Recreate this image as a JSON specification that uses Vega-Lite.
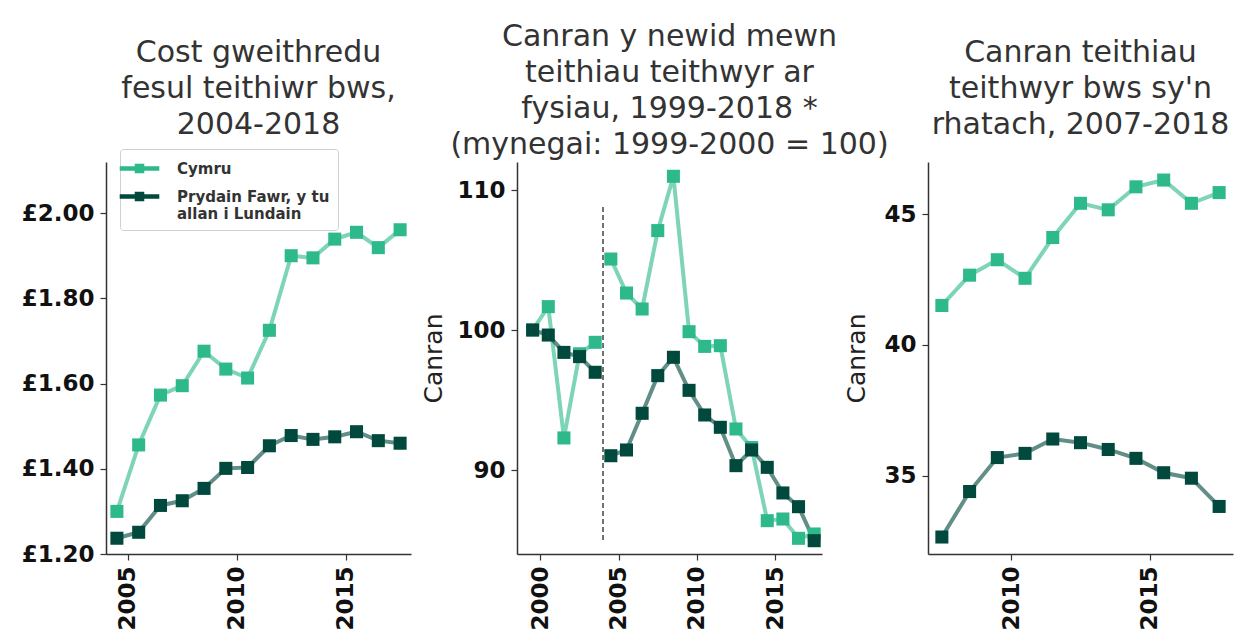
{
  "$schema": "https://vega.github.io/schema/vega-lite/v6.json",
  "background": "white",
  "padding": {"left": 21, "top": 22, "right": 5, "bottom": 0},
  "datasets": {
    "cost": [
      {"year": 2004.5, "value": 1.300, "series": "Cymru"},
      {"year": 2005.5, "value": 1.456, "series": "Cymru"},
      {"year": 2006.5, "value": 1.573, "series": "Cymru"},
      {"year": 2007.5, "value": 1.595, "series": "Cymru"},
      {"year": 2008.5, "value": 1.676, "series": "Cymru"},
      {"year": 2009.5, "value": 1.634, "series": "Cymru"},
      {"year": 2010.5, "value": 1.613, "series": "Cymru"},
      {"year": 2011.5, "value": 1.725, "series": "Cymru"},
      {"year": 2012.5, "value": 1.900, "series": "Cymru"},
      {"year": 2013.5, "value": 1.895, "series": "Cymru"},
      {"year": 2014.5, "value": 1.939, "series": "Cymru"},
      {"year": 2015.5, "value": 1.955, "series": "Cymru"},
      {"year": 2016.5, "value": 1.919, "series": "Cymru"},
      {"year": 2017.5, "value": 1.961, "series": "Cymru"},
      {"year": 2004.5, "value": 1.237, "series": "Prydain Fawr, y tu allan i Lundain"},
      {"year": 2005.5, "value": 1.251, "series": "Prydain Fawr, y tu allan i Lundain"},
      {"year": 2006.5, "value": 1.314, "series": "Prydain Fawr, y tu allan i Lundain"},
      {"year": 2007.5, "value": 1.325, "series": "Prydain Fawr, y tu allan i Lundain"},
      {"year": 2008.5, "value": 1.354, "series": "Prydain Fawr, y tu allan i Lundain"},
      {"year": 2009.5, "value": 1.401, "series": "Prydain Fawr, y tu allan i Lundain"},
      {"year": 2010.5, "value": 1.403, "series": "Prydain Fawr, y tu allan i Lundain"},
      {"year": 2011.5, "value": 1.454, "series": "Prydain Fawr, y tu allan i Lundain"},
      {"year": 2012.5, "value": 1.478, "series": "Prydain Fawr, y tu allan i Lundain"},
      {"year": 2013.5, "value": 1.469, "series": "Prydain Fawr, y tu allan i Lundain"},
      {"year": 2014.5, "value": 1.475, "series": "Prydain Fawr, y tu allan i Lundain"},
      {"year": 2015.5, "value": 1.487, "series": "Prydain Fawr, y tu allan i Lundain"},
      {"year": 2016.5, "value": 1.466, "series": "Prydain Fawr, y tu allan i Lundain"},
      {"year": 2017.5, "value": 1.460, "series": "Prydain Fawr, y tu allan i Lundain"}
    ],
    "index": [
      {"year": 1999.5, "value": 100.0, "series": "Cymru", "seg": "a"},
      {"year": 2000.5, "value": 101.67, "series": "Cymru", "seg": "a"},
      {"year": 2001.5, "value": 92.29, "series": "Cymru", "seg": "a"},
      {"year": 2002.5, "value": 98.3, "series": "Cymru", "seg": "a"},
      {"year": 2003.5, "value": 99.12, "series": "Cymru", "seg": "a"},
      {"year": 2004.5, "value": 105.07, "series": "Cymru", "seg": "b"},
      {"year": 2005.5, "value": 102.64, "series": "Cymru", "seg": "b"},
      {"year": 2006.5, "value": 101.5, "series": "Cymru", "seg": "b"},
      {"year": 2007.5, "value": 107.1, "series": "Cymru", "seg": "b"},
      {"year": 2008.5, "value": 110.98, "series": "Cymru", "seg": "b"},
      {"year": 2009.5, "value": 99.88, "series": "Cymru", "seg": "b"},
      {"year": 2010.5, "value": 98.83, "series": "Cymru", "seg": "b"},
      {"year": 2011.5, "value": 98.88, "series": "Cymru", "seg": "b"},
      {"year": 2012.5, "value": 92.93, "series": "Cymru", "seg": "b"},
      {"year": 2013.5, "value": 91.6, "series": "Cymru", "seg": "b"},
      {"year": 2014.5, "value": 86.38, "series": "Cymru", "seg": "b"},
      {"year": 2015.5, "value": 86.5, "series": "Cymru", "seg": "b"},
      {"year": 2016.5, "value": 85.12, "series": "Cymru", "seg": "b"},
      {"year": 2017.5, "value": 85.43, "series": "Cymru", "seg": "b"},
      {"year": 1999.5, "value": 100.0, "series": "Prydain Fawr, y tu allan i Lundain", "seg": "a"},
      {"year": 2000.5, "value": 99.64, "series": "Prydain Fawr, y tu allan i Lundain", "seg": "a"},
      {"year": 2001.5, "value": 98.4, "series": "Prydain Fawr, y tu allan i Lundain", "seg": "a"},
      {"year": 2002.5, "value": 98.1, "series": "Prydain Fawr, y tu allan i Lundain", "seg": "a"},
      {"year": 2003.5, "value": 96.98, "series": "Prydain Fawr, y tu allan i Lundain", "seg": "a"},
      {"year": 2004.5, "value": 91.02, "series": "Prydain Fawr, y tu allan i Lundain", "seg": "b"},
      {"year": 2005.5, "value": 91.43, "series": "Prydain Fawr, y tu allan i Lundain", "seg": "b"},
      {"year": 2006.5, "value": 94.05, "series": "Prydain Fawr, y tu allan i Lundain", "seg": "b"},
      {"year": 2007.5, "value": 96.74, "series": "Prydain Fawr, y tu allan i Lundain", "seg": "b"},
      {"year": 2008.5, "value": 98.05, "series": "Prydain Fawr, y tu allan i Lundain", "seg": "b"},
      {"year": 2009.5, "value": 95.69, "series": "Prydain Fawr, y tu allan i Lundain", "seg": "b"},
      {"year": 2010.5, "value": 93.93, "series": "Prydain Fawr, y tu allan i Lundain", "seg": "b"},
      {"year": 2011.5, "value": 93.05, "series": "Prydain Fawr, y tu allan i Lundain", "seg": "b"},
      {"year": 2012.5, "value": 90.31, "series": "Prydain Fawr, y tu allan i Lundain", "seg": "b"},
      {"year": 2013.5, "value": 91.43, "series": "Prydain Fawr, y tu allan i Lundain", "seg": "b"},
      {"year": 2014.5, "value": 90.19, "series": "Prydain Fawr, y tu allan i Lundain", "seg": "b"},
      {"year": 2015.5, "value": 88.36, "series": "Prydain Fawr, y tu allan i Lundain", "seg": "b"},
      {"year": 2016.5, "value": 87.38, "series": "Prydain Fawr, y tu allan i Lundain", "seg": "b"},
      {"year": 2017.5, "value": 84.95, "series": "Prydain Fawr, y tu allan i Lundain", "seg": "b"}
    ],
    "divider": [
      {"year": 2004, "low": 85, "high": 109}
    ],
    "cheaper": [
      {"year": 2007.5, "value": 41.51, "series": "Cymru"},
      {"year": 2008.5, "value": 42.67, "series": "Cymru"},
      {"year": 2009.5, "value": 43.26, "series": "Cymru"},
      {"year": 2010.5, "value": 42.55, "series": "Cymru"},
      {"year": 2011.5, "value": 44.11, "series": "Cymru"},
      {"year": 2012.5, "value": 45.42, "series": "Cymru"},
      {"year": 2013.5, "value": 45.17, "series": "Cymru"},
      {"year": 2014.5, "value": 46.05, "series": "Cymru"},
      {"year": 2015.5, "value": 46.31, "series": "Cymru"},
      {"year": 2016.5, "value": 45.42, "series": "Cymru"},
      {"year": 2017.5, "value": 45.83, "series": "Cymru"},
      {"year": 2007.5, "value": 32.65, "series": "Prydain Fawr, y tu allan i Lundain"},
      {"year": 2008.5, "value": 34.39, "series": "Prydain Fawr, y tu allan i Lundain"},
      {"year": 2009.5, "value": 35.69, "series": "Prydain Fawr, y tu allan i Lundain"},
      {"year": 2010.5, "value": 35.85, "series": "Prydain Fawr, y tu allan i Lundain"},
      {"year": 2011.5, "value": 36.40, "series": "Prydain Fawr, y tu allan i Lundain"},
      {"year": 2012.5, "value": 36.26, "series": "Prydain Fawr, y tu allan i Lundain"},
      {"year": 2013.5, "value": 36.00, "series": "Prydain Fawr, y tu allan i Lundain"},
      {"year": 2014.5, "value": 35.66, "series": "Prydain Fawr, y tu allan i Lundain"},
      {"year": 2015.5, "value": 35.11, "series": "Prydain Fawr, y tu allan i Lundain"},
      {"year": 2016.5, "value": 34.90, "series": "Prydain Fawr, y tu allan i Lundain"},
      {"year": 2017.5, "value": 33.82, "series": "Prydain Fawr, y tu allan i Lundain"}
    ]
  },
  "bounds": "flush",
  "spacing": 106,
  "resolve": {"scale": {"color": "independent"}, "legend": {"color": "independent"}},
  "hconcat": [
    {
      "width": 305,
      "height": 392,
      "title": {"text": ["Cost gweithredu", "fesul teithiwr bws,", "2004-2018"], "offset": 9},
      "data": {"name": "cost"},
      "encoding": {
        "x": {"field": "year", "type": "quantitative", "scale": {"domain": [2004, 2018], "nice": false, "zero": false},
              "axis": {"title": null, "values": [2005, 2010, 2015], "format": "d"}},
        "y": {"field": "value", "type": "quantitative", "scale": {"domain": [1.2, 2.12], "nice": false, "zero": false},
              "axis": {"title": null, "values": [1.2, 1.4, 1.6, 1.8, 2.0], "labelExpr": "'£' + format(datum.value, '.2f')"}}
      },
      "layer": [
        {
          "mark": {"type": "line", "strokeWidth": 4, "strokeOpacity": 0.62},
          "encoding": {
            "color": {"field": "series", "type": "nominal",
              "scale": {"domain": ["Cymru", "Prydain Fawr, y tu allan i Lundain"], "range": ["#2db98b", "#00493c"]},
              "legend": {"title": null, "orient": "none", "legendX": 14, "legendY": -13,
                "symbolType": "M-2.2,0H-0.28M0.28,0H2.2M-0.28,-0.28H0.28V0.28H-0.28Z",
                "symbolSize": 324, "symbolStrokeWidth": 4.5, "symbolOpacity": 0.9,
                "labelExpr": "datum.label == 'Prydain Fawr, y tu allan i Lundain' ? ['Prydain Fawr, y tu', 'allan i Lundain'] : datum.label",
                "labelFont": "DejaVu Sans", "labelFontSize": 15, "labelFontWeight": "bold", "labelColor": "#333",
                "labelLimit": 300, "rowPadding": 3, "labelOffset": 26,
                "strokeColor": "#d0d0d0", "fillColor": "white", "cornerRadius": 3, "padding": 8}
            }
          }
        },
        {
          "mark": {"type": "point", "shape": "square", "filled": true, "size": 170, "opacity": 1},
          "encoding": {
            "color": {"field": "series", "type": "nominal",
              "scale": {"domain": ["Cymru", "Prydain Fawr, y tu allan i Lundain"], "range": ["#2db98b", "#00493c"]}}
          }
        }
      ]
    },
    {
      "width": 305,
      "height": 392,
      "title": {"text": ["Canran y newid mewn", "teithiau teithwyr ar", "fysiau, 1999-2018 *", "(mynegai: 1999-2000 = 100)"], "offset": 2},
      "layer": [
        {
          "data": {"name": "divider"},
          "mark": {"type": "rule", "color": "#444", "strokeWidth": 1.5, "strokeDash": [5, 3]},
          "encoding": {
            "x": {"field": "year", "type": "quantitative"},
            "y": {"field": "low", "type": "quantitative"},
            "y2": {"field": "high"}
          }
        },
        {
          "data": {"name": "index"},
          "mark": {"type": "line", "strokeWidth": 4, "strokeOpacity": 0.62},
          "encoding": {
            "x": {"field": "year", "type": "quantitative"},
            "y": {"field": "value", "type": "quantitative"},
            "detail": {"field": "seg"},
            "color": {"field": "series", "type": "nominal",
              "scale": {"domain": ["Cymru", "Prydain Fawr, y tu allan i Lundain"], "range": ["#2db98b", "#00493c"]}, "legend": null}
          }
        },
        {
          "data": {"name": "index"},
          "mark": {"type": "point", "shape": "square", "filled": true, "size": 170, "opacity": 1},
          "encoding": {
            "x": {"field": "year", "type": "quantitative"},
            "y": {"field": "value", "type": "quantitative"},
            "color": {"field": "series", "type": "nominal",
              "scale": {"domain": ["Cymru", "Prydain Fawr, y tu allan i Lundain"], "range": ["#2db98b", "#00493c"]}, "legend": null}
          }
        }
      ],
      "encoding": {
        "x": {"field": "year", "type": "quantitative", "scale": {"domain": [1998.5, 2018], "nice": false, "zero": false},
              "axis": {"title": null, "values": [2000, 2005, 2010, 2015], "format": "d"}},
        "y": {"field": "value", "type": "quantitative", "scale": {"domain": [84, 112], "nice": false, "zero": false},
              "axis": {"title": "Canran", "values": [90, 100, 110]}}
      }
    },
    {
      "width": 305,
      "height": 392,
      "title": {"text": ["Canran teithiau", "teithwyr bws sy'n", "rhatach, 2007-2018"], "offset": 22},
      "data": {"name": "cheaper"},
      "encoding": {
        "x": {"field": "year", "type": "quantitative", "scale": {"domain": [2007, 2018], "nice": false, "zero": false},
              "axis": {"title": null, "values": [2010, 2015], "format": "d"}},
        "y": {"field": "value", "type": "quantitative", "scale": {"domain": [32, 47], "nice": false, "zero": false},
              "axis": {"title": "Canran", "values": [35, 40, 45], "titlePadding": 14}}
      },
      "layer": [
        {
          "mark": {"type": "line", "strokeWidth": 4, "strokeOpacity": 0.62},
          "encoding": {
            "color": {"field": "series", "type": "nominal",
              "scale": {"domain": ["Cymru", "Prydain Fawr, y tu allan i Lundain"], "range": ["#2db98b", "#00493c"]}, "legend": null}
          }
        },
        {
          "mark": {"type": "point", "shape": "square", "filled": true, "size": 170, "opacity": 1},
          "encoding": {
            "color": {"field": "series", "type": "nominal",
              "scale": {"domain": ["Cymru", "Prydain Fawr, y tu allan i Lundain"], "range": ["#2db98b", "#00493c"]}, "legend": null}
          }
        }
      ]
    }
  ],
  "config": {
    "view": {"stroke": null},
    "title": {"font": "DejaVu Sans", "fontSize": 30, "fontWeight": "normal", "color": "#333", "lineHeight": 36, "anchor": "middle"},
    "axis": {
      "grid": false,
      "domainColor": "#333", "domainWidth": 1.5,
      "tickColor": "#333", "tickWidth": 1.2, "tickSize": 6,
      "labelFont": "DejaVu Sans", "labelFontSize": 23, "labelFontWeight": "bold", "labelColor": "#111",
      "labelPadding": 6,
      "titleFont": "DejaVu Sans", "titleFontSize": 25, "titleFontWeight": "normal", "titleColor": "#222", "titlePadding": 10
    },
    "axisX": {"labelAngle": 270, "labelPadding": 6},
    "legend": {"labelFont": "DejaVu Sans", "labelFontSize": 15, "labelFontWeight": "bold", "labelColor": "#333"}
  }
}
